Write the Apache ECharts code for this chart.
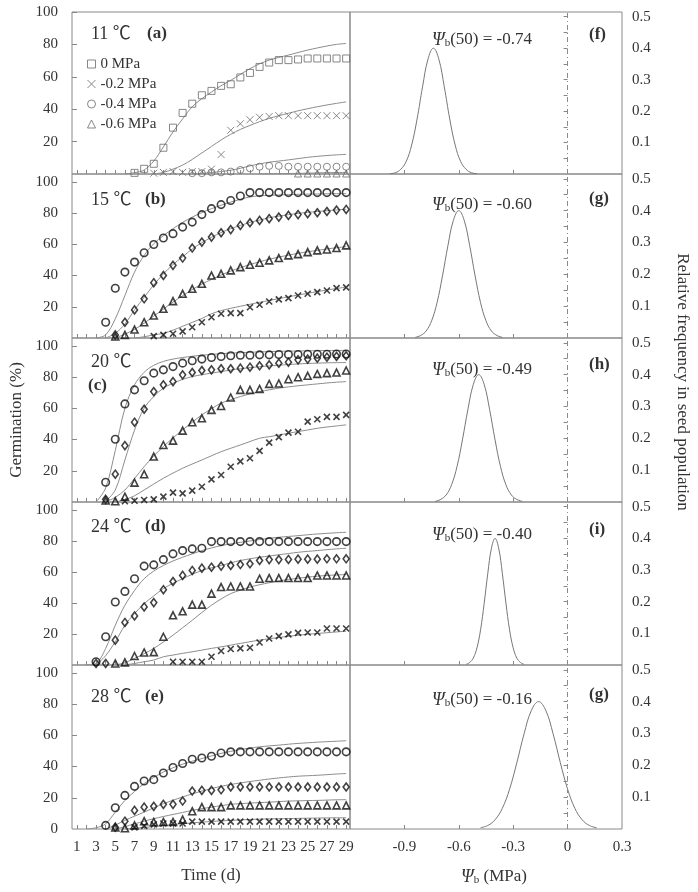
<!DOCTYPE html>
<html><head><meta charset="utf-8">
<script src="https://cdn.jsdelivr.net/npm/echarts@6/dist/echarts.min.js"></script>
<style>html,body{margin:0;padding:0;background:#fff;}#c{width:698px;height:892px;}</style>
</head><body><div id="c"></div>
<script>
const _ = null;
const days = [1,2,3,4,5,6,7,8,9,10,11,12,13,14,15,16,17,18,19,20,21,22,23,24,25,26,27,28,29];
const dayTicks = [1,2,3,4,5,6,7,8,9,10,11,12,13,14,15,16,17,18,19,20,21,22,23,24,25,26,27,28,29];
const dayLabels = [1,3,5,7,9,11,13,15,17,19,21,23,25,27,29];
const germTicks = [20,40,60,80,100];
const germLabelsBottom = [0,20,40,60,80,100];
const psiTicks = [-0.9,-0.6,-0.3,0];
const psiLabels = [-0.9,-0.6,-0.3,0,0.3];
const freqTicks = [0.05,0.1,0.15,0.2,0.25,0.3,0.35,0.4,0.45,0.5];
const freqLabels = [0.1,0.2,0.3,0.4,0.5];

const temps = ['11 ℃','15 ℃','20 ℃','24 ℃','28 ℃'];
const panelLetters = ['(a)','(b)','(c)','(d)','(e)'];
const distLetters = ['(f)','(g)','(h)','(i)','(g)'];
const psi50 = ['-0.74','-0.60','-0.49','-0.40','-0.16'];
const legendNames = ['0 MPa','-0.2 MPa','-0.4 MPa','-0.6 MPa'];

// ---- 11 C (a) ----
const a_sq  = [_,_,_,_,_,_,0.7,3.2,6.3,16.2,28.6,37.7,43.4,48.6,51.3,54.4,55.4,59.6,62.4,66.1,68.8,70.3,70.3,70.7,71.3,71.3,71.3,71.3,71.3];
const a_x   = [_,_,_,_,_,_,_,_,0.5,1,1.5,1,1.5,1.5,3,12,27,31,33.5,35,35.5,36,36,36,36,36,36,36,36];
const a_ci  = [_,_,_,_,_,_,_,_,_,_,_,_,0.5,0.5,1,1,1.5,2.5,3.5,4.5,5,5,4.5,4.5,4.5,4.5,4.5,4.5,4.5];
const a_tr  = [_,_,_,_,_,_,_,_,_,_,_,_,_,_,_,_,_,_,_,_,_,_,_,0.3,0.3,0.3,0.3,0.3,0.3];
const a_fit0 = [_,_,_,_,_,0,0.8,2.5,8,16.7,26,34,41.5,46.5,50.6,54.5,57.8,61.5,65,68,70.3,72,73.4,75,76.5,77.8,79,80,80.6];
const a_fit1 = [_,_,_,_,_,_,_,_,0,1,3,5.5,9,13,17,21,24.5,27.5,30,32.3,34.3,36,37.5,39,40.3,41.5,42.6,43.6,44.5];
const a_fit2 = [_,_,_,_,_,_,_,_,_,_,_,_,0,0.4,0.9,1.5,2.3,3.5,5,6.2,7.3,8,8.7,9.5,10.3,10.9,11.4,11.8,12.1];
const a_fit3 = [_,_,_,_,_,_,_,_,_,_,_,_,_,_,_,_,_,_,_,0,0.1,0.2,0.3,0.4,0.5,0.7,0.8,0.9,1.0];

// ---- 15 C (b) ----
const b_ci = [_,_,_,10.1,31.9,42.2,48.6,54.6,59.9,64,66.8,71,74.2,79,82.8,85.4,88,90.9,93.1,93.1,93.1,93.1,93.1,93.1,93.1,93.1,93.1,93.1,93.1];
const b_di = [_,_,_,_,2,10.1,18,25.1,35.4,40,46.5,51.2,57.6,61.4,64.6,67.4,69.4,72.1,73.8,75.3,76.4,77.4,78.5,79,79.6,80.2,81,81.9,82.3];
const b_tr = [_,_,_,_,1,2,5.4,10.1,14.4,18.7,23.6,28.3,31.5,34.7,40,41.1,43.3,45.4,46.9,48.2,49.7,51.2,52.9,53.7,55,56.1,56.7,57.6,59.3];
const b_x  = [_,_,_,_,_,_,_,_,1.2,2,2.7,4.2,6.9,10.1,13.3,15.5,15.9,15.9,19.7,21.3,23.4,24.7,25.5,27.2,28.3,29.4,30.4,31.9,32.4];
const b_fit0 = [_,_,0,2,12.3,27.2,42.2,52.9,60.4,65.5,70,74,77.4,80.3,82.8,85,87,88.8,90.3,91,91.3,91.6,91.8,92,92.1,92.2,92.3,92.4,92.4];
const b_fit1 = [_,_,_,0,3,9,18,26,34,41,47,52,57,61,64.5,67.5,70,72,74,75.5,77,78,79,79.8,80.5,81,81.5,82,82.4];
const b_fit2 = [_,_,_,_,0,2.5,5.5,9.5,14,18.5,23,27,31,34.5,37.5,40.3,42.8,45,47,48.8,50.4,51.8,53,54.2,55.2,56.1,57,57.8,58.5];
const b_fit3 = [_,_,_,_,_,_,0,0.8,2,3,5,7.5,10,12.5,15.5,17.5,19,20.3,21.6,22.8,24,25.2,26.4,27.5,28.6,29.7,30.7,31.7,32.6];

// ---- 20 C (c) ----
const c_ci = [_,_,_,12.6,40.2,62.8,71.8,77.6,82.5,84.6,86.7,88.9,90.4,91.5,92.5,93.2,93.6,94,94,94.2,94.2,94.4,94.4,94.4,94.6,94.6,94.6,94.8,94.8];
const c_di = [_,_,_,1.7,17.8,36.1,51.1,59.4,70.7,75,77.1,81.4,82.9,84.2,84.6,85.3,85.3,85.7,86.3,87.2,87.8,88.9,89.5,91,91.5,92.1,92.7,93.2,93.6];
const c_tr = [_,_,_,1,0.5,3.4,12.4,17.8,29.1,36.5,39.3,45.7,51.1,53.6,59,61.5,66.9,71.8,71.8,72.4,75.6,75.9,78.6,79.9,80.8,82,82.5,82.9,84.2];
const c_x  = [_,_,_,_,_,0.5,0.8,1.3,1.7,3.4,6,5.5,7.3,9.8,14.5,17.3,22.6,26,28,32.7,38,41.5,44.4,45,51.5,53,54.5,54.5,55.8];
const c_fit0 = [_,_,0,9,33,60,75,83,87.5,90,91.5,92.5,93.3,94,94.5,95,95.3,95.6,95.9,96.1,96.3,96.5,96.6,96.7,96.8,96.9,97,97,97.1];
const c_fit1 = [_,_,_,0.5,7.7,26.9,46,60,67.5,72.9,76,78.5,80.3,81.5,82.5,83.5,84.5,85.3,86,86.6,87.1,87.6,88,88.4,88.7,88.9,89.1,89.2,89.3];
const c_fit2 = [_,_,_,0,3,7.7,15,22.6,29.5,35.5,41,46.2,51,55.8,59.7,63.3,65.5,67.5,69.2,70.7,71.8,72.9,73.7,74.4,75,75.6,76.2,76.7,77.1];
const c_fit3 = [_,_,_,_,0,1.5,4,7.7,11.5,15.2,18.5,21.6,24.3,26.9,29.6,32.2,34.4,36.5,38.7,40.8,41.8,42.9,44,45.1,46.1,47.2,48,48.7,49.4];

// ---- 24 C (d) ----
const d_ci = [_,_,2.1,18.2,40.6,47.4,55.6,63.7,64.5,67.9,71.6,73.7,74.8,75.2,79.5,79.5,79.5,79.5,79.5,79.5,79.5,79.5,79.5,79.5,79.5,79.5,79.5,79.5,79.5];
const d_di = [_,_,1,1,16,27.4,31.6,37.4,40.2,48.5,53.8,57.7,60.9,62.4,63,63.7,64.1,64.7,65.2,67.3,67.9,67.9,68,68.2,68.2,68.2,68.4,68.4,68.4];
const d_tr = [_,_,_,_,1,1.7,5.8,8.1,8.3,18.2,32,34.6,38.9,38.9,46,50.2,50.6,50.6,50.6,55.6,56,56,56,56,56,57.7,57.7,57.7,57.7];
const d_x  = [_,_,_,_,_,_,_,_,_,_,2.1,2.1,2.1,2.1,5.3,9,10.3,10.7,11.1,14.5,17.1,18.6,19.7,20.7,20.9,20.9,23.5,23.5,23.5];
const d_fit0 = [_,0,1,10.7,25.6,38.5,48,55.6,60.5,64.1,67,69.4,71.6,73.7,75.4,76.9,78,79,79.9,80.8,81.6,82.3,82.8,83.3,83.9,84.4,84.8,85.2,85.5];
const d_fit1 = [_,_,0,6,15,25.6,33.1,39.5,44.5,49.2,52.6,55.6,58.4,60.9,62.6,64.1,65.8,67.3,68.4,69.4,70.2,71,71.8,72.6,73.2,73.7,74.3,74.8,75.2];
const d_fit2 = [_,_,_,_,0,1.5,4.3,7.3,10.7,14.8,19.2,24,28.8,33.8,38.5,42.5,46,48.2,50.2,51.7,53,54.1,55.1,55.9,56.6,57.2,57.7,58,58.3];
const d_fit3 = [_,_,_,_,_,0,1,2.1,3.2,5.3,6.4,7.5,8.5,9.6,10.7,11.7,12.8,13.9,15,16,16.9,17.7,18.5,19.2,19.8,20.3,20.8,21.3,21.8];

// ---- 28 C (e) ----
const e_ci = [_,_,_,2.3,13.6,21.5,27.3,30.7,31.6,35.9,39.4,41.9,44.7,45.5,46.6,48.7,49.4,49.4,49.4,49.4,49.4,49.4,49.4,49.4,49.4,49.4,49.4,49.4,49.4];
const e_di = [_,_,_,_,1.2,5,11.9,14,14.5,15.8,15.8,17.9,24.3,24.7,24.7,25.1,26.9,26.9,26.9,26.9,26.9,26.9,26.9,26.9,26.9,26.9,26.9,26.9,26.9];
const e_tr = [_,_,_,_,1,0.5,2.3,5,4.5,4.5,4.5,6,11.4,14,14,14,15.1,15.1,15.1,15.1,15.1,15.1,15.1,15.1,15.1,15.1,15.1,15.1,15.1];
const e_x  = [_,_,_,_,_,_,1,2,3,3.5,3.5,3.5,4.7,4.7,4.7,4.7,4.7,4.7,4.7,4.7,4.7,4.7,4.7,4.7,4.7,4.7,4.7,4.7,4.7];
const e_fit0 = [_,0,0.8,3.3,10.8,18.3,24,29.1,33,36.5,39.2,41.5,43.4,45.1,46.8,48.4,49.7,50.9,51.8,52.6,53.2,53.7,54.3,54.8,55.2,55.6,55.9,56.2,56.5];
const e_fit1 = [_,_,_,0,2.5,5.5,8.2,10.8,13.6,16.2,18.4,20.5,22.5,24.3,25.9,27.3,28.5,29.5,30.4,31.2,32,32.7,33.3,33.8,34.1,34.4,34.8,35.2,35.5];
const e_fit2 = [_,_,_,_,0,1.5,3.3,5,6.6,8,9.3,10.6,11.9,13,14,14.9,15.8,16.2,16.6,16.9,17.2,17.5,17.9,18,18.2,18.3,18.5,18.7,18.8];
const e_fit3 = [_,_,_,_,_,0,0.5,1,1.6,2.1,2.9,3.4,3.9,4.4,4.8,5.2,5.5,5.8,6.1,6.3,6.5,6.6,6.7,6.8,6.9,7,7.1,7.2,7.2];

// ---- seed-population distributions (f)-(g) ----
const distF_x = [-0.98,-0.95,-0.92,-0.89,-0.86,-0.83,-0.80,-0.77,-0.74,-0.71,-0.68,-0.65,-0.62,-0.59,-0.56,-0.53,-0.50];
const distF_y = [0.001,0.004,0.015,0.040,0.092,0.175,0.277,0.365,0.400,0.365,0.277,0.175,0.092,0.040,0.015,0.004,0.001];
const distG_x = [-0.84,-0.81,-0.78,-0.75,-0.72,-0.69,-0.66,-0.63,-0.60,-0.57,-0.54,-0.51,-0.48,-0.45,-0.42,-0.39,-0.36];
const distG_y = [0.002,0.008,0.022,0.054,0.111,0.195,0.290,0.369,0.400,0.369,0.290,0.195,0.111,0.054,0.022,0.008,0.002];
const distH_x = [-0.73,-0.70,-0.67,-0.64,-0.61,-0.58,-0.55,-0.52,-0.49,-0.46,-0.43,-0.40,-0.37,-0.34,-0.31,-0.28,-0.25];
const distH_y = [0.002,0.008,0.022,0.054,0.111,0.195,0.290,0.369,0.400,0.369,0.290,0.195,0.111,0.054,0.022,0.008,0.002];
const distI_x = [-0.56,-0.54,-0.52,-0.50,-0.48,-0.46,-0.44,-0.42,-0.40,-0.38,-0.36,-0.34,-0.32,-0.30,-0.28,-0.26,-0.24];
const distI_y = [0.002,0.008,0.022,0.054,0.111,0.195,0.290,0.369,0.400,0.369,0.290,0.195,0.111,0.054,0.022,0.008,0.002];
const distJ_x = [-0.48,-0.44,-0.40,-0.36,-0.32,-0.28,-0.24,-0.20,-0.16,-0.12,-0.08,-0.04,0.00,0.04,0.08,0.12,0.16];
const distJ_y = [0.004,0.011,0.029,0.065,0.125,0.208,0.299,0.372,0.400,0.372,0.299,0.208,0.125,0.065,0.029,0.011,0.004];

// ================= layout / style =================
const FONT = "'Liberation Serif','Times New Roman',serif";
const FONT_C = "'Liberation Serif','Noto Sans CJK SC',serif";
const TXT = '#333';
const AX = '#888';
const SYM_X = 'path://M0,0L10,10M10,0L0,10';
const tops = [12, 174, 338, 502, 665];
const heights = [162, 164, 164, 163, 164];

const panels = [
  {pts:[a_sq,a_x,a_ci,a_tr], fits:[a_fit0,a_fit1,a_fit2,a_fit3]},
  {pts:[b_ci,b_di,b_tr,b_x], fits:[b_fit0,b_fit1,b_fit2,b_fit3]},
  {pts:[c_ci,c_di,c_tr,c_x], fits:[c_fit0,c_fit1,c_fit2,c_fit3]},
  {pts:[d_ci,d_di,d_tr,d_x], fits:[d_fit0,d_fit1,d_fit2,d_fit3]},
  {pts:[e_ci,e_di,e_tr,e_x], fits:[e_fit0,e_fit1,e_fit2,e_fit3]}
];
const dists = [[distF_x,distF_y],[distG_x,distG_y],[distH_x,distH_y],[distI_x,distI_y],[distJ_x,distJ_y]];

const symA = [['rect',7],[SYM_X,7],['circle',7],['triangle',7]];
const symB = [['circle',7.5],['diamond',[6,8]],['triangle',7],[SYM_X,6]];

const grid = [], xAxis = [], yAxis = [], series = [], graphic = [];

for (let i = 0; i < 5; i++) {
  grid.push({left:72, width:278, top:tops[i], height:heights[i], show:true, borderColor:AX, borderWidth:1});
  xAxis.push({type:'value', gridIndex:i, min:0.5, max:29.4,
    axisLine:{show:false}, splitLine:{show:false},
    axisTick:{show:true, inside:true, length:4, customValues:dayTicks, lineStyle:{color:AX}},
    axisLabel:{show:i===4, customValues:dayLabels, margin:11, fontFamily:FONT, fontSize:15, color:TXT}});
  yAxis.push({type:'value', gridIndex:i, min:0, max:(i===0?100:105),
    axisLine:{show:false}, splitLine:{show:false},
    axisTick:{show:true, inside:true, length:5, customValues:germTicks, lineStyle:{color:AX}},
    axisLabel:{customValues:(i===4?germLabelsBottom:germTicks), margin:14, fontFamily:FONT, fontSize:15, color:TXT}});
}
for (let i = 0; i < 5; i++) {
  grid.push({left:350, width:272, top:tops[i], height:heights[i], show:true, borderColor:AX, borderWidth:1});
  xAxis.push({type:'value', gridIndex:5+i, min:-1.2, max:0.3,
    axisLine:{show:false}, splitLine:{show:false},
    axisTick:{show:true, inside:true, length:4, customValues:psiTicks, lineStyle:{color:AX}},
    axisLabel:{show:i===4, customValues:psiLabels, margin:11, fontFamily:FONT, fontSize:15, color:TXT,
      formatter:v => (v===0 ? '0' : v.toFixed(1))}});
  yAxis.push({type:'value', gridIndex:5+i, position:'right', min:0, max:0.515,
    axisLine:{show:false}, splitLine:{show:false},
    axisTick:{show:true, inside:true, length:4, customValues:freqTicks, lineStyle:{color:AX}},
    axisLabel:{customValues:freqLabels, margin:10, fontFamily:FONT, fontSize:15, color:TXT,
      formatter:v => v.toFixed(1)}});
}

panels.forEach((p, i) => {
  const syms = i === 0 ? symA : symB;
  const col = i === 0 ? '#6a6a6a' : '#111';
  const bw = i === 0 ? 1 : 1.6;
  p.fits.forEach((f, k) => {
    series.push({type:'line', xAxisIndex:i, yAxisIndex:i, silent:true, smooth:0.35,
      showSymbol:false, symbol:'none', connectNulls:false,
      data: days.map((d, j) => [d, f[j]]),
      lineStyle:{color:'#8c8c8c', width:1}, z:2});
  });
  p.pts.forEach((arr, k) => {
    series.push({type:'scatter', xAxisIndex:i, yAxisIndex:i,
      name: i === 0 ? legendNames[k] : (temps[i] + ' ' + legendNames[k]),
      symbol:syms[k][0], symbolSize:syms[k][1],
      data: days.map((d, j) => [d, arr[j]]).filter(v => v[1] !== null),
      itemStyle:{color:'transparent', borderColor:col, borderWidth:bw}, z:3});
  });
});

dists.forEach((dd, i) => {
  series.push({type:'line', xAxisIndex:5+i, yAxisIndex:5+i, silent:true, smooth:0.4,
    showSymbol:false, symbol:'none',
    data: dd[0].map((x, j) => [x, dd[1][j]]),
    lineStyle:{color:'#777', width:1},
    markLine:{silent:true, symbol:['none','none'], label:{show:false},
      lineStyle:{type:[5,3,1,3], color:'#8a8a8a', width:1},
      data:[{xAxis:0}]}});
});

function txt(x, y, text, opts) {
  return Object.assign({type:'text', x:x, y:y, silent:true,
    style:Object.assign({text:text, fill:TXT, fontFamily:FONT, fontSize:17,
      align:'left', verticalAlign:'middle', textAlign:'left', textVerticalAlign:'middle'}, opts && opts.style)},
    opts && opts.el);
}

const tempY = [34, 200, 362, 527, 697];
const letterPos = [[147,34],[145,200],[88,386],[145,527],[145,697]];
const psiY = [40, 205, 370, 535, 700];
const distLetterY = [35, 199, 365, 530, 695];
const richPsi = {i:{fontStyle:'italic', fontFamily:FONT, fontSize:18, fill:TXT},
                 s:{fontFamily:FONT, fontSize:11, fill:TXT, verticalAlign:'bottom', padding:[0,0,0,0]}};
for (let i = 0; i < 5; i++) {
  graphic.push(txt(91, tempY[i], temps[i], {style:{fontFamily:FONT_C, fontSize:18}}));
  graphic.push(txt(letterPos[i][0], letterPos[i][1], panelLetters[i], {style:{fontWeight:'bold', fontSize:17}}));
  graphic.push(txt(432, psiY[i], '{i|Ψ}{s|b}(50) = ' + psi50[i], {style:{rich:richPsi}}));
  graphic.push(txt(589, distLetterY[i], distLetters[i], {style:{fontWeight:'bold', fontSize:17}}));
}
graphic.push(txt(17, 420, 'Germination (%)', {style:{align:'center', textAlign:'center'}, el:{rotation:Math.PI/2}}));
graphic.push(txt(682, 382, 'Relative frequency in seed population', {style:{align:'center', textAlign:'center'}, el:{rotation:-Math.PI/2}}));
graphic.push(txt(211, 876, 'Time (d)', {style:{align:'center', textAlign:'center'}}));
graphic.push(txt(494, 877, '{i|Ψ}{s|b} (MPa)', {style:{align:'center', textAlign:'center', rich:richPsi}}));

const option = {
  animation:false,
  backgroundColor:'#fff',
  grid, xAxis, yAxis, series, graphic,
  legend:{orient:'vertical', left:82, top:51, itemWidth:8, itemHeight:8, itemGap:4, selectedMode:false,
    textStyle:{fontFamily:FONT, fontSize:15, color:TXT, lineHeight:16},
    data:[
      {name:legendNames[0], icon:'rect', itemStyle:{color:'transparent', borderColor:'#6a6a6a', borderWidth:1}},
      {name:legendNames[1], icon:SYM_X, itemStyle:{color:'transparent', borderColor:'#6a6a6a', borderWidth:1}},
      {name:legendNames[2], icon:'circle', itemStyle:{color:'transparent', borderColor:'#6a6a6a', borderWidth:1}},
      {name:legendNames[3], icon:'triangle', itemStyle:{color:'transparent', borderColor:'#6a6a6a', borderWidth:1}}
    ]}
};
const chart = echarts.init(document.getElementById('c'), null, {renderer:'canvas'});
chart.setOption(option);
</script>
</body></html>
